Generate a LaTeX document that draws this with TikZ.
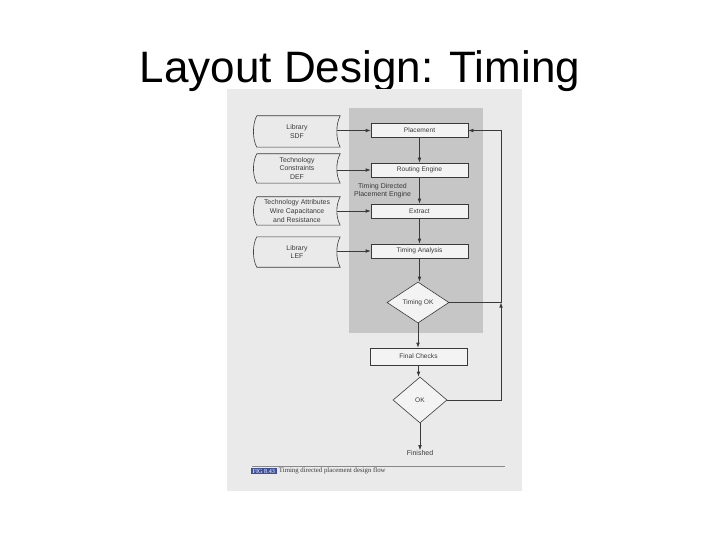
\documentclass[tikz,border=0pt]{standalone}
\usepackage{fontspec}
\setmainfont{Liberation Sans}
\newfontfamily\capfont{Liberation Serif}
\usetikzlibrary{shapes.geometric,arrows.meta,calc}
\definecolor{scanbg}{HTML}{EAEAEB}
\definecolor{panel}{HTML}{C6C6C7}
\definecolor{boxfill}{HTML}{F3F3F3}
\definecolor{ink}{HTML}{3A3A3A}
\definecolor{figblue}{HTML}{3E4F98}
\tikzset{
  proc/.style={draw=ink, line width=0.6pt, fill=boxfill, minimum width=97pt, minimum height=14pt, inner sep=0pt, font=\fontsize{6.6}{7.5}\selectfont, text=ink},
  dec/.style={draw=ink, line width=0.6pt, fill=boxfill, diamond, inner sep=0pt, font=\fontsize{6.6}{7.5}\selectfont, text=ink},
  docnode/.style={minimum width=86pt, inner sep=0pt, align=center, font=\fontsize{6.9}{8.6}\selectfont, text=ink},
  docline/.style={draw=ink, line width=0.6pt},
  arr/.style={draw=ink, line width=0.6pt, -{Latex[length=5pt,width=3.6pt]}},
  ln/.style={draw=ink, line width=0.6pt},
  lbl/.style={align=center, font=\fontsize{7}{8.4}\selectfont, text=ink, inner sep=0pt},
}
\begin{document}
\begin{tikzpicture}[x=1pt,y=-1pt]
\useasboundingbox (0,0) rectangle (720,540);
\fill[white] (0,0) rectangle (720,540);
% title
\node[anchor=base, font=\fontsize{44}{50}\selectfont, inner sep=0pt] (title) at (360,83) {Layout Design: Timing};
% scanned page
\fill[scanbg] (227,89) rectangle (522,491);
\fill[panel] (349,108) rectangle (483,333);
% process boxes
\node[proc] (place) at (419.5,130.5) {Placement};
\node[proc] (route) at (419.5,170) {Routing Engine};
\node[proc] (extract) at (419.5,211) {Extract};
\node[proc] (ta) at (419.5,251) {Timing Analysis};
\node[dec, minimum width=62pt, minimum height=41pt] (tok) at (418,302.5) {Timing OK};
\node[proc, minimum height=17pt] (fc) at (418.5,356.5) {Final Checks};
\node[dec, minimum width=54pt, minimum height=46pt] (ok) at (420,400) {OK};
\node[lbl] (fin) at (420,453) {Finished};
\node[lbl] (tdpe) at (382.5,190.5) {Timing Directed\\Placement Engine};
% documents
\node[docnode, minimum height=31pt] (d1) at (297,131.5) {Library\\SDF};
\node[docnode, minimum height=29pt] (d2) at (297,168.5) {Technology\\Constraints\\DEF};
\node[docnode, minimum height=28pt] (d3) at (297,211) {Technology Attributes\\Wire Capacitance\\and Resistance};
\node[docnode, minimum height=30pt] (d4) at (297,252) {Library\\LEF};
\foreach \d in {d1,d2,d3,d4}{
  \draw[docline] ($(\d.north west)+(3,0)$) -- ($(\d.north east)+(0,0)$)
    .. controls +(-4.5,8) and +(-4.5,-8) .. ($(\d.south east)+(0,0)$)
    -- ($(\d.south west)+(3,0)$)
    .. controls +(-4.5,-8) and +(-4.5,8) .. ($(\d.north west)+(3,0)$);
}
% input arrows
\draw[arr, shorten <=-3.4pt] (d1.east |- place.west) -- (place.west);
\draw[arr, shorten <=-3.4pt] (d2.east |- route.west) -- (route.west);
\draw[arr, shorten <=-3.4pt] (d3.east |- extract.west) -- (extract.west);
\draw[arr, shorten <=-3.4pt] (d4.east |- ta.west) -- (ta.west);
% main flow
\draw[arr] (place.south) -- (place.south |- route.north);
\draw[arr] (route.south) -- (route.south |- extract.north);
\draw[arr] (extract.south) -- (extract.south |- ta.north);
\draw[arr] (ta.south) -- (ta.south |- tok.north);
\draw[arr] (tok.south) -- (tok.south |- fc.north);
\draw[arr] (fc.south) -- (fc.south |- ok.north);
\draw[arr] (ok.south) -- (fin.north);
% feedback loop
\coordinate (fbx) at (501,0);
\draw[arr] (ok.east) -| (fbx |- tok.east);
\draw[ln] (tok.east) -- (fbx |- tok.east);
\draw[arr] (fbx |- tok.east) |- (place.east);
% caption
\draw[ink!60, line width=0.4pt] (252,466) -- (505,466);
\node[fill=figblue, text=white, font=\capfont\fontsize{6.2}{7}\selectfont, inner xsep=1.5pt, inner ysep=1pt, anchor=west] (fig) at (251,471) {FIG 8.43};
\node[font=\capfont\fontsize{6.8}{8}\selectfont, text=ink, anchor=west, inner sep=0pt] (cap) at (fig.east) {\hspace{2pt}Timing directed placement design flow};
\end{tikzpicture}
\end{document}
